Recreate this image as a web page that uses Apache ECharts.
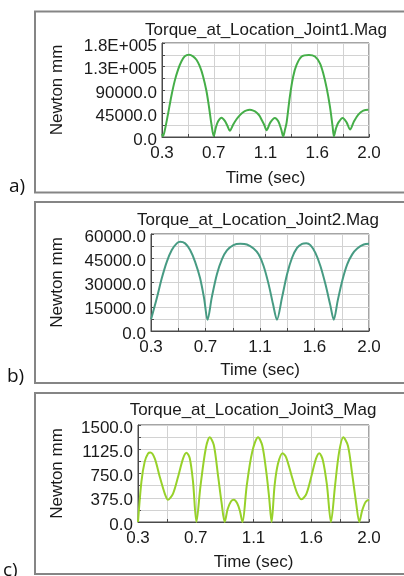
<!DOCTYPE html>
<html>
<head>
<meta charset="utf-8">
<script src="https://cdn.jsdelivr.net/npm/echarts@6/dist/echarts.min.js"></script>
<style>
  html, body { margin: 0; padding: 0; background: #fff; }
  #chart { width: 404px; height: 576px; }
</style>
</head>
<body>
<div id="chart"></div>
<script>
// Time axis (seconds) shared by the three joint plots
const timeStart = 0.3;
const timeEnd = 2.0;
const timeTickLabels = ['0.3', '0.7', '1.1', '1.6', '2.0'];

// Joint 1 torque magnitude (N·mm)
const timeJoint1 = [0.300, 0.308, 0.322, 0.349, 0.377, 0.404, 0.432, 0.460, 0.487, 0.522, 0.555, 0.583, 0.610, 0.637, 0.665, 0.687, 0.706, 0.725,
  0.742, 0.761, 0.789, 0.816, 0.838, 0.857, 0.885, 0.912, 0.940, 0.966, 0.995, 1.021, 1.050, 1.076, 1.100, 1.118, 1.140, 1.159,
  1.190, 1.227, 1.255, 1.280, 1.295, 1.310, 1.323, 1.350, 1.377, 1.405, 1.447, 1.507, 1.556, 1.597, 1.624, 1.652, 1.679, 1.701, 1.712,
  1.728, 1.748, 1.784, 1.817, 1.844, 1.877, 1.912, 1.953, 1.995, 2.000];
const torqueJoint1 = [6000, 1500, 11700, 43400, 78500, 107000, 129000, 145000, 154500, 157500, 154500, 148000, 135500, 116500, 88000, 56000, 24500, 1500,
  18000, 30000, 37000, 31000, 21000, 12000, 24000, 34000, 42000, 47500, 51000, 52000, 50500, 47000, 41000, 33000, 23000, 13000,
  28000, 36500, 30000, 14000, 1000, 14000, 27000, 77500, 115500, 138000, 154000, 157000, 154000, 141000, 122000, 94000, 58500, 20500, 1500,
  16000, 27500, 36500, 27500, 14500, 30000, 43000, 50500, 52000, 52000];
const yLabelsJoint1 = ['0.0', '45000.0', '90000.0', '1.3E+005', '1.8E+005'];
const yMaxJoint1 = 180000;

// Joint 2 torque magnitude (N·mm)
const timeJoint2 = [0.300, 0.305, 0.345, 0.384, 0.423, 0.462, 0.501, 0.527, 0.566, 0.605, 0.644, 0.683, 0.714, 0.741,
  0.774, 0.814, 0.853, 0.892, 0.943, 0.996, 1.048, 1.100, 1.139, 1.178, 1.217, 1.251, 1.282,
  1.322, 1.361, 1.400, 1.439, 1.478, 1.511, 1.543, 1.582, 1.621, 1.660, 1.699, 1.725,
  1.756, 1.791, 1.830, 1.869, 1.908, 1.959, 2.000];
const torqueJoint2 = [7400, 8500, 20200, 32600, 42800, 50100, 54200, 55200, 54200, 50100, 42800, 32600, 20200, 6900,
  20800, 35100, 44300, 49800, 53100, 53900, 53500, 51000, 47400, 40200, 29000, 16800, 7000,
  20800, 35100, 45300, 51400, 53900, 54300, 53100, 48300, 40200, 29000, 15700, 7000,
  18800, 31000, 41200, 47400, 51000, 53500, 53900];
const yLabelsJoint2 = ['0.0', '15000.0', '30000.0', '45000.0', '60000.0'];
const yMaxJoint2 = 60000;

// Joint 3 torque magnitude (N·mm)
const timeJoint3 = [0.300, 0.325, 0.349, 0.374, 0.391, 0.423, 0.460, 0.497, 0.521, 0.558, 0.595, 0.632, 0.657, 0.681, 0.705, 0.730,
  0.760, 0.799, 0.828, 0.858, 0.890, 0.915, 0.938, 0.960, 0.985, 1.005, 1.030, 1.050, 1.069,
  1.100, 1.140, 1.184, 1.215, 1.245, 1.265, 1.283, 1.305, 1.330, 1.364, 1.390, 1.430, 1.470, 1.504, 1.540, 1.575, 1.610, 1.634, 1.660, 1.690, 1.720,
  1.750, 1.780, 1.811, 1.845, 1.875, 1.905, 1.929, 1.950, 1.975, 2.000];
const torqueJoint3 = [0, 620, 930, 1060, 1075, 985, 700, 440, 345, 440, 700, 985, 1070, 985, 620, 0,
  560, 1140, 1310, 1190, 700, 300, 0, 200, 320, 345, 290, 170, 0,
  560, 1080, 1310, 1180, 760, 380, 0, 560, 900, 1065, 1000, 720, 450, 350, 440, 700, 980, 1065, 960, 580, 0,
  560, 1080, 1310, 1180, 760, 300, 0, 180, 310, 345];
const yLabelsJoint3 = ['0.0', '375.0', '750.0', '1125.0', '1500.0'];
const yMaxJoint3 = 1500;

// The time axis is split into 8 equal grid steps; labels sit on every other step
const gridSteps = 8;
const stepSize = (timeEnd - timeStart) / gridSteps;
const toStep = t => (t - timeStart) / stepSize;

const FONT = "'Liberation Sans', Arial, sans-serif";
const TEXT = '#1a1a1a';
const FRAME = '#4a4a4a';
const GRIDLINE = '#d2d2d2';

const panels = [
  { title: 'Torque_at_Location_Joint1.Mag', t: timeJoint1, v: torqueJoint1, yLabels: yLabelsJoint1, yMax: yMaxJoint1,
    color: '#45ae48', grid: { left: 162, top: 43, width: 207, height: 94 }, titleTop: 22, titleX: 266, yGap: 96, xGap: 32.5 },
  { title: 'Torque_at_Location_Joint2.Mag', t: timeJoint2, v: torqueJoint2, yLabels: yLabelsJoint2, yMax: yMaxJoint2,
    color: '#479b83', grid: { left: 151, top: 234, width: 218, height: 97 }, titleTop: 212, titleX: 258, yGap: 85, xGap: 30.5 },
  { title: 'Torque_at_Location_Joint3_Mag', t: timeJoint3, v: torqueJoint3, yLabels: yLabelsJoint3, yMax: yMaxJoint3,
    color: '#97d12a', grid: { left: 138, top: 425, width: 231, height: 97 }, titleTop: 402, titleX: 253, yGap: 72, xGap: 31.5 }
];

const option = {
  animation: false,
  backgroundColor: '#fff',
  title: panels.map(p => ({
    text: p.title,
    left: p.titleX,
    top: p.titleTop,
    textAlign: 'center',
    padding: 0,
    textStyle: { fontFamily: FONT, fontSize: 17, fontWeight: 'normal', color: TEXT }
  })),
  grid: panels.map(p => Object.assign({ show: true, borderColor: FRAME, borderWidth: 1, backgroundColor: '#fff' }, p.grid)),
  xAxis: panels.map((p, i) => ({
    type: 'value',
    gridIndex: i,
    min: 0,
    max: gridSteps,
    interval: 1,
    name: 'Time (sec)',
    nameLocation: 'middle',
    nameGap: p.xGap,
    nameTextStyle: { fontFamily: FONT, fontSize: 17, color: TEXT },
    axisLine: { show: true, lineStyle: { color: FRAME, width: 1 } },
    axisTick: { show: true, inside: true, length: 3, lineStyle: { color: FRAME } },
    splitLine: { show: true, lineStyle: { color: GRIDLINE, width: 1 } },
    axisLabel: {
      margin: 8,
      fontFamily: FONT, fontSize: 17, color: TEXT,
      formatter: v => {
        const k = Math.round(v);
        return k % 2 === 0 ? timeTickLabels[k / 2] : '';
      }
    }
  })),
  yAxis: panels.map((p, i) => ({
    type: 'value',
    gridIndex: i,
    min: 0,
    max: p.yMax,
    interval: p.yMax / 8,
    name: 'Newton mm',
    nameLocation: 'middle',
    nameGap: p.yGap,
    nameTextStyle: { fontFamily: FONT, fontSize: 17, color: TEXT },
    axisLine: { show: true, lineStyle: { color: FRAME, width: 1 } },
    axisTick: { show: true, inside: true, length: 3, lineStyle: { color: FRAME } },
    splitLine: { show: true, lineStyle: { color: GRIDLINE, width: 1 } },
    axisLabel: {
      margin: 5,
      fontFamily: FONT, fontSize: 17, color: TEXT,
      formatter: v => {
        const k = Math.round(v / (p.yMax / 8));
        return k % 2 === 0 ? '{lo|' + p.yLabels[k / 2] + '}' : '';
      },
      rich: {
        lo: { fontFamily: FONT, fontSize: 17, color: TEXT, padding: [6, 0, 0, 0] }
      }
    }
  })),
  series: panels.map((p, i) => ({
    type: 'line',
    xAxisIndex: i,
    yAxisIndex: i,
    data: p.t.map((t, j) => [toStep(t), p.v[j]]),
    showSymbol: false,
    smooth: 0.3,
    clip: true,
    lineStyle: { color: p.color, width: 2 },
    itemStyle: { color: p.color }
  })),
  graphic: [
    // panel frames
    { type: 'rect', shape: { x: 35, y: 11.5, width: 380, height: 181 }, style: { fill: 'none', stroke: '#858585', lineWidth: 2 }, silent: true },
    { type: 'rect', shape: { x: 35, y: 202, width: 380, height: 181 }, style: { fill: 'none', stroke: '#858585', lineWidth: 2 }, silent: true },
    { type: 'rect', shape: { x: 35, y: 393, width: 380, height: 181 }, style: { fill: 'none', stroke: '#858585', lineWidth: 2 }, silent: true },
    // panel tags
    { type: 'text', x: 9, y: 186.5, style: { text: 'a)', fontFamily: "'Open Sans', sans-serif", fontSize: 19, fill: '#111', verticalAlign: 'middle' } },
    { type: 'text', x: 7, y: 377, style: { text: 'b)', fontFamily: "'Open Sans', sans-serif", fontSize: 19, fill: '#111', verticalAlign: 'middle' } },
    { type: 'text', x: 3, y: 571, style: { text: 'c)', fontFamily: "'Open Sans', sans-serif", fontSize: 19, fill: '#111', verticalAlign: 'middle' } }
  ]
};

const chart = echarts.init(document.getElementById('chart'), null, { renderer: 'canvas' });
chart.setOption(option);
</script>
</body>
</html>
